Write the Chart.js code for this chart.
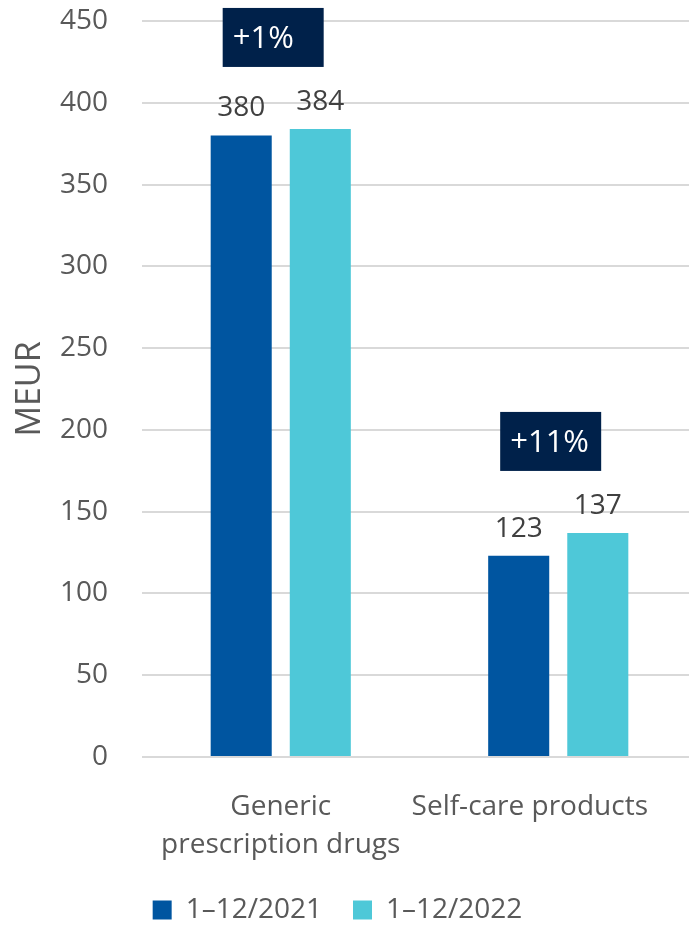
<!DOCTYPE html>
<html lang="en">

<head>
    <meta charset="UTF-8" />
    <meta name="viewport" content="width=device-width, initial-scale=1.0" />
    <title>Sales by product group</title>
    <script src="https://cdn.jsdelivr.net/npm/chart.js@4/dist/chart.umd.min.js"></script>
    <style>
        html, body { margin: 0; padding: 0; background: #fff; overflow: hidden; }
        .chart-wrap { width: 697px; height: 927px; }
    </style>
</head>

<body>
    <div class="chart-wrap">
        <canvas id="salesChart" width="697" height="927"></canvas>
    </div>
</body>

<script>
    // 카테고리 / 시리즈 데이터
    const categories = [['Generic', 'prescription drugs'], 'Self-care products'];
    const seriesNames = ['1–12/2021', '1–12/2022'];
    const sales2021 = [380, 123];
    const sales2022 = [384, 137];
    const changeLabels = ['+1%', '+11%'];
    const yTicks = [0, 50, 100, 150, 200, 250, 300, 350, 400, 450];

    const FONT = "'Open Sans', 'Noto Sans', sans-serif";

    // 막대 위 값 + 증감률 박스
    const labelPlugin = {
        id: 'barLabels',
        afterDatasetsDraw(chart) {
            const ctx = chart.ctx;
            ctx.save();
            ctx.font = '28px ' + FONT;
            ctx.fillStyle = '#404040';
            ctx.textAlign = 'center';
            ctx.textBaseline = 'alphabetic';
            chart.data.datasets.forEach((ds, di) => {
                chart.getDatasetMeta(di).data.forEach((bar, i) => {
                    ctx.fillText(ds.data[i], bar.x, bar.y - 19);
                });
            });

            const first = chart.getDatasetMeta(0).data;
            const second = chart.getDatasetMeta(1).data;
            ctx.font = '31px ' + FONT;
            changeLabels.forEach((txt, i) => {
                const left = first[i].x - first[i].width / 2 + 12;
                const top = Math.min(first[i].y, second[i].y) - 62 - 59;
                ctx.fillStyle = '#00214a';
                ctx.fillRect(left, top, 101, 59);
                ctx.fillStyle = '#ffffff';
                ctx.textAlign = 'left';
                ctx.textBaseline = 'middle';
                ctx.fillText(txt, left + 10, top + 31);
            });
            ctx.restore();
        }
    };

    // 마지막 x축 라벨이 오른쪽 끝에 붙지 않도록 안쪽으로 밀기
    const keepLabelInside = {
        id: 'keepLabelInside',
        beforeDraw(chart) {
            const scale = chart.scales.x;
            const items = scale.getLabelItems();
            const last = items[items.length - 1];
            if (!last || last._moved) return;
            const ctx = chart.ctx;
            ctx.save();
            ctx.font = last.font.string;
            const lines = [].concat(last.label);
            const w = Math.max(...lines.map(l => ctx.measureText(l).width));
            ctx.restore();
            const limit = chart.width - 49;
            const right = last.options.translation[0] + w / 2;
            if (right > limit) last.options.translation[0] -= right - limit;
            last._moved = true;
        }
    };

    const chart = new Chart(document.getElementById('salesChart'), {
        type: 'bar',
        data: {
            labels: categories,
            datasets: [
                {
                    label: seriesNames[0],
                    data: sales2021,
                    backgroundColor: '#0055a0',
                    categoryPercentage: 0.57,
                    barPercentage: 0.772
                },
                {
                    label: seriesNames[1],
                    data: sales2022,
                    backgroundColor: '#4ec8d8',
                    categoryPercentage: 0.57,
                    barPercentage: 0.772
                }
            ]
        },
        options: {
            responsive: false,
            animation: false,
            layout: {
                padding: { top: 21, bottom: -7, left: -22, right: 0 }
            },
            scales: {
                x: {
                    grid: { display: false, drawTicks: false },
                    border: { display: false },
                    ticks: {
                        padding: 31,
                        color: '#595959',
                        maxRotation: 0,
                        font: { family: FONT, size: 28, lineHeight: 1.36 }
                    },
                    afterFit(scale) {
                        scale.height = 108;
                        scale.paddingLeft = 0;
                        scale.paddingRight = 0;
                    }
                },
                y: {
                    min: 0,
                    max: 450,
                    afterBuildTicks(scale) {
                        scale.ticks = yTicks.map(v => ({ value: v }));
                    },
                    grid: { color: '#d9d9d9', lineWidth: 2, drawTicks: false },
                    border: { display: false },
                    ticks: {
                        padding: 34,
                        color: '#595959',
                        font: { family: FONT, size: 28 }
                    },
                    title: {
                        display: true,
                        text: 'MEUR',
                        color: '#595959',
                        padding: { top: 32, bottom: 0 },
                        font: { family: FONT, size: 34 }
                    },
                    afterFit(scale) {
                        scale.width = 164;
                        // 눈금 패딩이 위/아래 여백에 더해지지 않도록
                        scale.paddingTop = 0;
                        scale.paddingBottom = 0;
                    }
                }
            },
            plugins: {
                legend: {
                    position: 'bottom',
                    labels: {
                        boxWidth: 19,
                        boxHeight: 19,
                        padding: 31,
                        color: '#595959',
                        font: { family: FONT, size: 28 }
                    }
                },
                tooltip: { enabled: false }
            }
        },
        plugins: [labelPlugin, keepLabelInside]
    });
</script>

</html>
